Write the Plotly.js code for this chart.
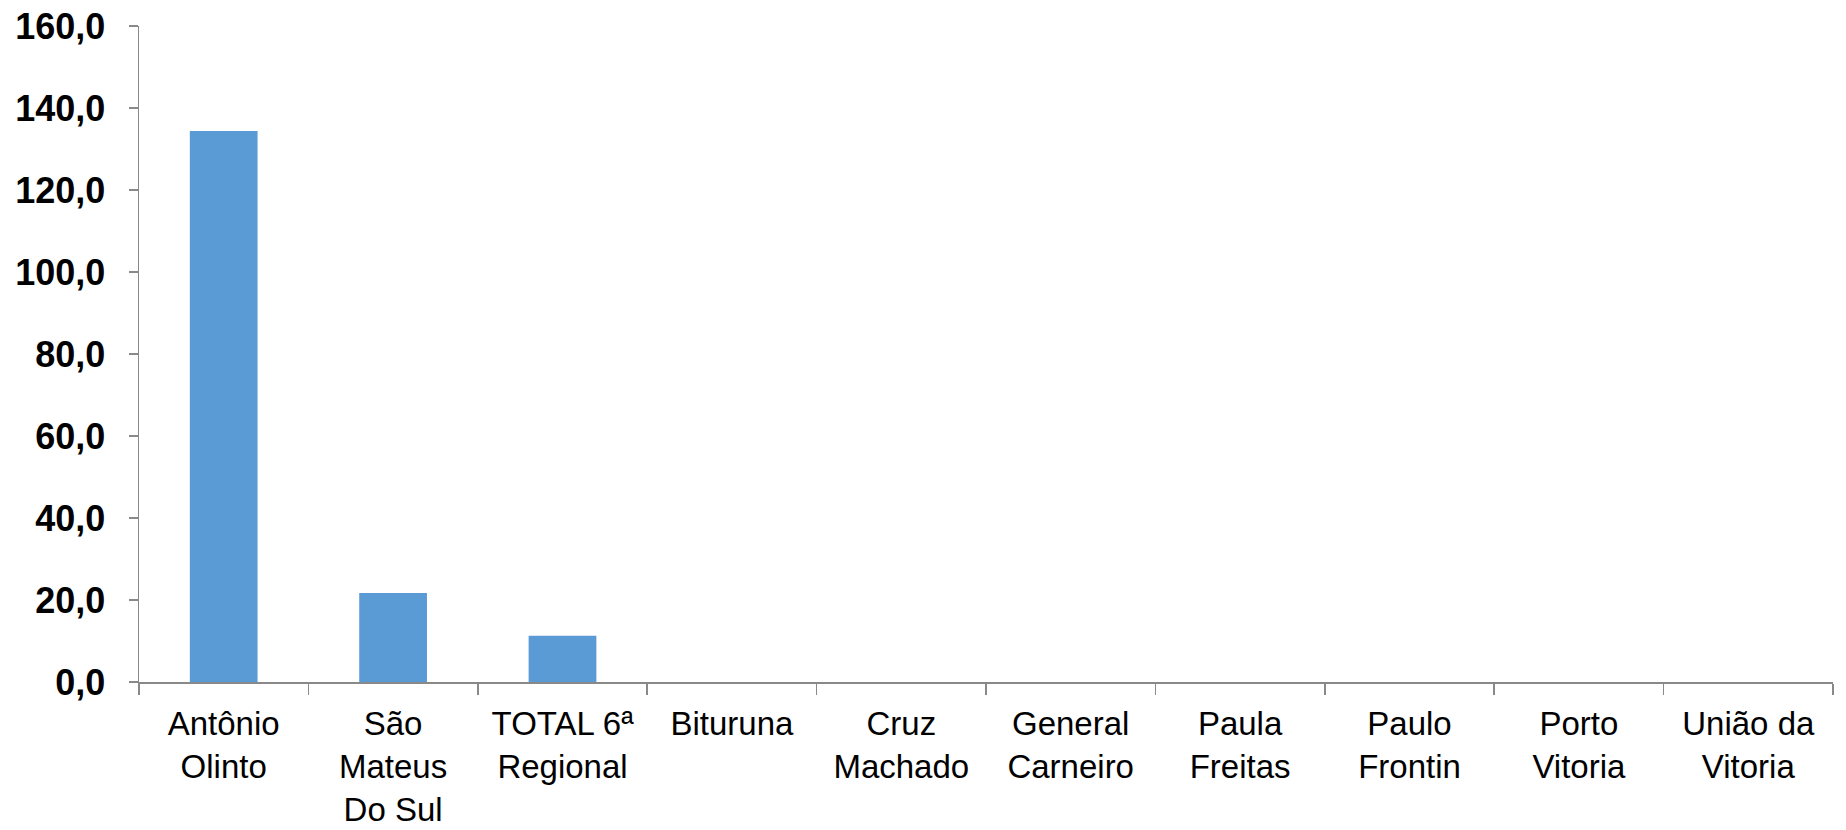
<!DOCTYPE html>
<html>
<head>
<meta charset="utf-8">
<script src="https://cdn.plot.ly/plotly-3.0.1.min.js"></script>
<style>html,body{margin:0;padding:0;background:#fff;}#chart{width:1846px;height:830px;}</style>
</head>
<body>
<div id="chart"></div>
<script>
const categories = ["Antônio<br>Olinto", "São<br>Mateus<br>Do Sul", "TOTAL 6ª<br>Regional", "Bituruna", "Cruz<br>Machado", "General<br>Carneiro", "Paula<br>Freitas", "Paulo<br>Frontin", "Porto<br>Vitoria", "União da<br>Vitoria"];
const values = [134.4, 21.7, 11.3, 0, 0, 0, 0, 0, 0, 0];
const yTicks = [0, 20, 40, 60, 80, 100, 120, 140, 160];

const trace = {
  type: 'bar',
  x: categories,
  y: values,
  marker: {color: '#5B9BD5'},
  hoverinfo: 'x+y'
};

const layout = {
  width: 1846,
  height: 830,
  margin: {l: 139, r: 13, t: 26, b: 148},
  paper_bgcolor: '#ffffff',
  plot_bgcolor: '#ffffff',
  separators: ',.',
  bargap: 0.6,
  showlegend: false,
  font: {family: 'Liberation Sans, Arial, sans-serif', color: '#000000'},
  xaxis: {
    type: 'category',
    showgrid: false,
    showline: true,
    linecolor: '#898989',
    linewidth: 1.5,
    ticks: 'outside',
    tickson: 'boundaries',
    ticklen: 11,
    tickcolor: '#898989',
    tickwidth: 1.5,
    ticklabelstandoff: 12,
    tickfont: {size: 33, family: 'Liberation Sans, Arial, sans-serif', color: '#000000'},
    tickangle: 0,
    automargin: false
  },
  yaxis: {
    range: [0, 160],
    tickvals: yTicks,
    tickformat: '.1f',
    showgrid: false,
    zeroline: false,
    showline: true,
    linecolor: '#898989',
    linewidth: 1.5,
    ticks: 'outside',
    ticklen: 9,
    tickcolor: '#898989',
    tickwidth: 1.5,
    ticklabelstandoff: 16,
    tickfont: {size: 36, family: 'Liberation Sans, Arial, sans-serif', color: '#000000', weight: 'bold'},
    automargin: false
  }
};

Plotly.newPlot('chart', [trace], layout, {displayModeBar: false, staticPlot: true});
</script>
</body>
</html>
